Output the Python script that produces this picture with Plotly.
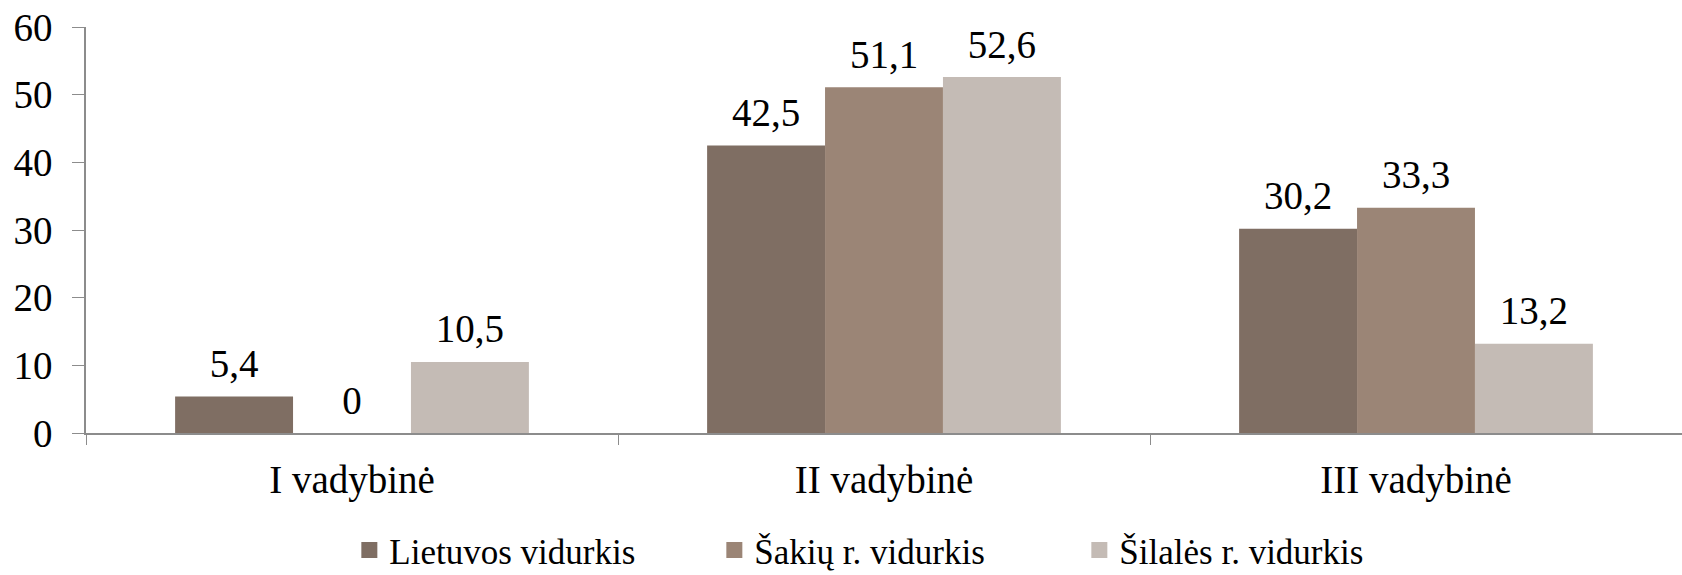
import plotly.graph_objects as go

categories = ["I vadybinė", "II vadybinė", "III vadybinė"]
series_names = ["Lietuvos vidurkis", "Šakių r. vidurkis", "Šilalės r. vidurkis"]
lietuvos = [5.4, 42.5, 30.2]
sakiu = [0, 51.1, 33.3]
silales = [10.5, 52.6, 13.2]
colors = ["#7F6E63", "#9B8576", "#C4BBB5"]

FONT = "Liberation Serif"
FS = 39

def fmt(v):
    return f"{v:g}".replace(".", ",")

fig = go.Figure()
all_vals = [lietuvos, sakiu, silales]
for name, vals, col in zip(series_names, all_vals, colors):
    fig.add_trace(go.Bar(
        x=categories, y=vals, name=name, showlegend=False,
        marker=dict(color=col, line=dict(width=0)),
        cliponaxis=False, hoverinfo="skip",
    ))
# value labels, grouped like the bars, lifted with an invisible marker
for name, vals in zip(series_names, all_vals):
    fig.add_trace(go.Scatter(
        x=categories, y=vals, name=name, showlegend=False,
        mode="markers+text", text=[fmt(v) for v in vals], textposition="top center",
        textfont=dict(family=FONT, size=FS, color="#000"),
        marker=dict(size=14, opacity=0), cliponaxis=False,
    ))
# legend entries with larger square swatches (on a hidden overlay axis)
for name, col in zip(series_names, colors):
    fig.add_trace(go.Scatter(
        x=[None], y=[None], mode="markers", name=name, xaxis="x2", yaxis="y2",
        marker=dict(symbol="square", size=20, color=col),
    ))

fig.update_layout(
    width=1682, height=575,
    barmode="group", bargap=0.335, bargroupgap=0,
    scattermode="group", scattergap=0.335,
    plot_bgcolor="white", paper_bgcolor="white",
    margin=dict(l=86, r=0, t=27, b=142, autoexpand=False),
    font=dict(family=FONT, size=FS, color="#000"),
    showlegend=True,
    legend=dict(orientation="h", yref="container", x=0.165, xanchor="left", y=0.043, yanchor="middle",
                font=dict(family=FONT, size=35), itemwidth=30, traceorder="normal",
                entrywidth=320, entrywidthmode="pixels"),
    xaxis2=dict(overlaying="x", visible=False, range=[0, 1]),
    yaxis2=dict(overlaying="y", visible=False, range=[0, 1]),
    xaxis=dict(showline=True, linecolor="#8C8C8C", linewidth=1.5, automargin=False,
               ticks="outside", tickson="boundaries", ticklen=10, tickcolor="#8C8C8C",
               ticklabelstandoff=11,
               tickfont=dict(family=FONT, size=FS), showgrid=False),
    yaxis=dict(range=[0, 60], dtick=10, showline=True, linecolor="#8C8C8C", linewidth=1.5,
               automargin=False, ticklabeloverflow="allow",
               ticks="outside", ticklen=12, tickcolor="#8C8C8C", ticklabelstandoff=12,
               tickfont=dict(family=FONT, size=39), showgrid=False, zeroline=False),
)

fig.write_html("out.html", config={"displayModeBar": False},
               post_script="document.body.style.margin='0';document.body.style.overflow='hidden';")
